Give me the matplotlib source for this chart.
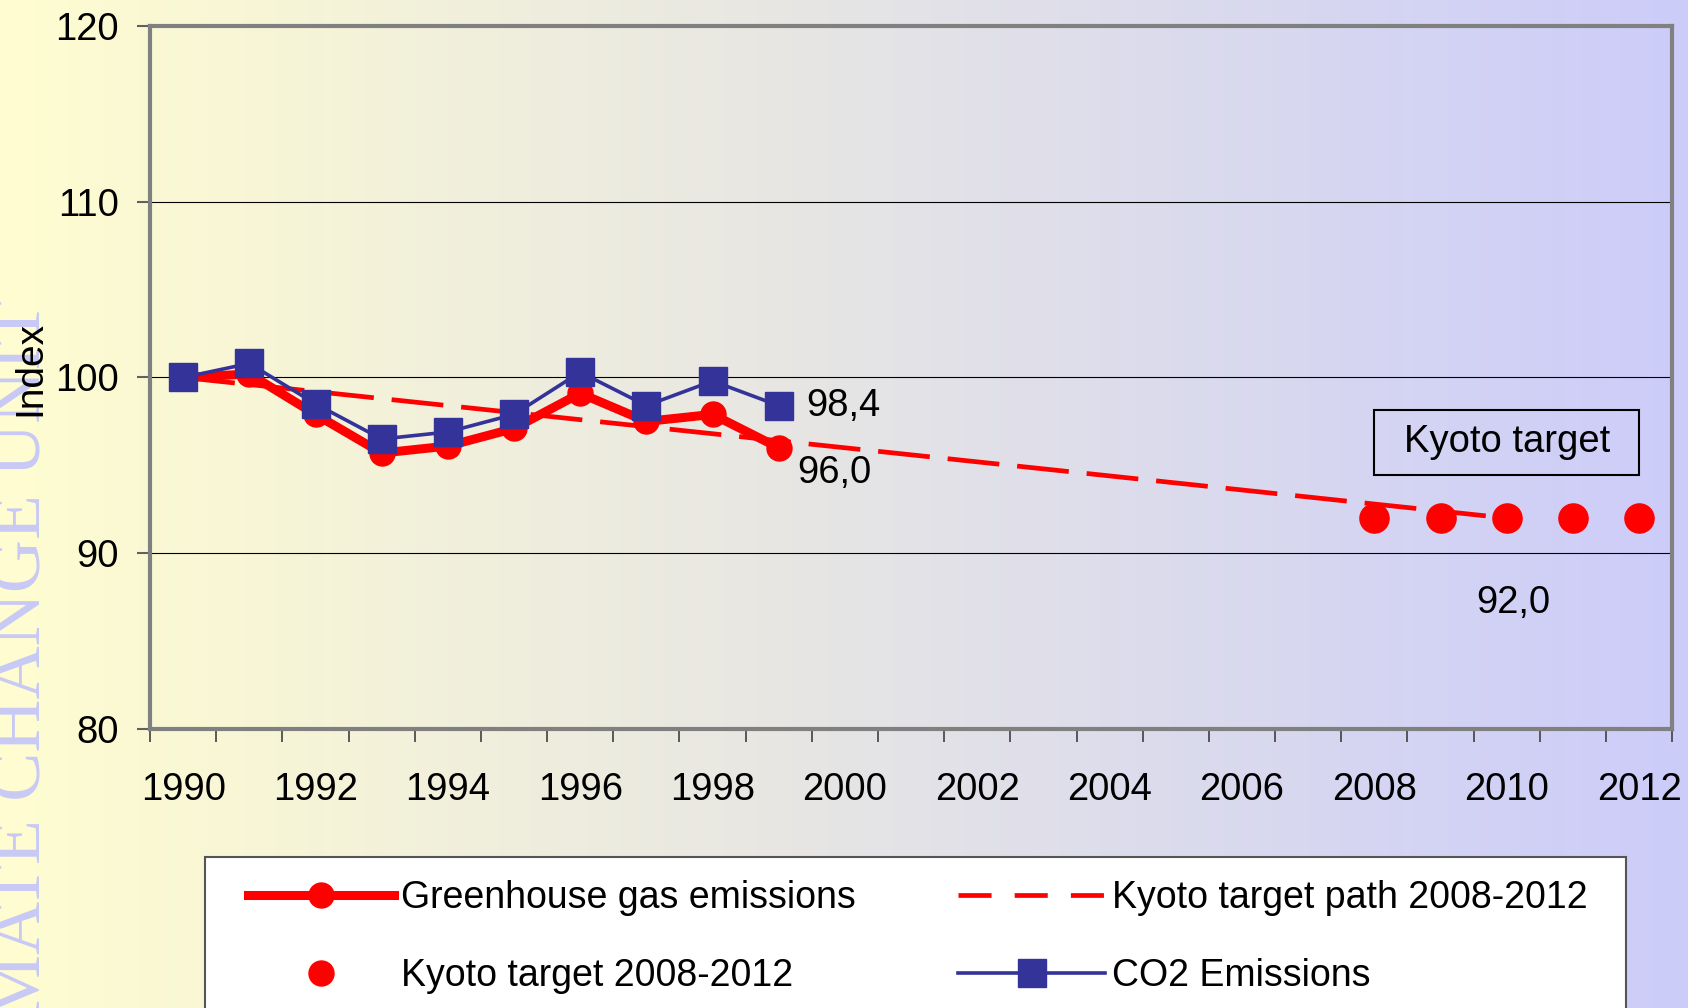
import numpy as np
import matplotlib.pyplot as plt
from matplotlib.patches import Rectangle
from matplotlib.lines import Line2D

plt.rcParams['font.family'] = ['Liberation Sans', 'DejaVu Sans']

# data
years = list(range(1990, 2013))
label_years = [1990, 1992, 1994, 1996, 1998, 2000, 2002, 2004, 2006, 2008, 2010, 2012]
y_ticks = [80, 90, 100, 110, 120]

emis_years = [1990, 1991, 1992, 1993, 1994, 1995, 1996, 1997, 1998, 1999]
ghg_values = [100.0, 100.2, 97.9, 95.7, 96.1, 97.1, 99.1, 97.5, 97.9, 96.0]
co2_values = [100.0, 100.8, 98.5, 96.5, 96.9, 97.9, 100.3, 98.4, 99.8, 98.4]

path_years = [1990, 2010]
path_values = [100.0, 92.0]

target_years = [2008, 2009, 2010, 2011, 2012]
target_values = [92.0, 92.0, 92.0, 92.0, 92.0]

FS = 27.5

def pos(yrs):
    return [y - years[0] for y in yrs]

fig = plt.figure(figsize=(16.88, 10.08), dpi=100)

# background gradient yellow -> lavender
bg = fig.add_axes([0, 0, 1, 1], zorder=-10)
c0 = np.array([255, 253, 208]) / 255
c1 = np.array([204, 204, 250]) / 255
t = np.linspace(0, 1, 512)[None, :, None]
grad = c0 * (1 - t) + c1 * t
bg.imshow(grad, aspect='auto', extent=[0, 1, 0, 1])
bg.set_xlim(0, 1)
bg.set_ylim(0, 1)
bg.axis('off')
bg.text(41 / 1688, 1 - 300 / 1008, 'CLIMATE CHANGE UNIT', rotation=90,
        rotation_mode='anchor', ha='right', va='baseline',
        fontsize=53, color='#C8CAF6', family='Liberation Serif',
        transform=bg.transAxes)

ax = fig.add_axes([0.0889, 0.2768, 0.9017, 0.6974])
ax.set_facecolor('none')

ax.plot(pos(path_years), path_values, color='red', lw=3.4,
        dashes=(11, 3.8), zorder=2)
ax.plot(pos(emis_years), ghg_values, color='red', lw=6.5, marker='o',
        markersize=18, zorder=3)
ax.plot(pos(target_years), target_values, ls='none', color='red', marker='o',
        markersize=21, zorder=3)
ax.plot(pos(emis_years), co2_values, color='#333399', lw=2.6, marker='s',
        markersize=20, zorder=4)

ax.set_xlim(-0.5, len(years) - 0.5)
ax.set_ylim(80, 120)
ax.set_yticks(y_ticks)
ax.tick_params(axis='y', labelsize=FS, length=9.5, width=1.5, color='#606060', pad=13)

# category axis: ticks between years, labels every other year
ax.set_xticks(np.arange(-0.5, len(years), 1.0))
ax.set_xticklabels([])
ax.set_xticks(pos(label_years), minor=True)
ax.set_xticklabels([str(y) for y in label_years], minor=True)
ax.tick_params(axis='x', which='major', length=9, width=1.2, color='#404040')
ax.tick_params(axis='x', which='minor', length=0, labelsize=FS, pad=31)

ax.grid(axis='y', color='black', lw=0.8)
for s in ax.spines.values():
    s.set_color('#808080')
    s.set_linewidth(3.0)

fig.text(30 / 1688, 1 - 368 / 1008, 'Index', rotation=90, ha='center',
         va='center', fontsize=28)

# value labels
ax.annotate('98,4', (emis_years[-1] - years[0], co2_values[-1]),
            xytext=(20, 0), textcoords='offset points', ha='left',
            va='center', fontsize=FS)
ax.annotate('96,0', (emis_years[-1] - years[0], ghg_values[-1]),
            xytext=(13, -18), textcoords='offset points', ha='left',
            va='center', fontsize=FS)
ax.annotate('92,0', (2010 - years[0], 92.0),
            xytext=(5, -61), textcoords='offset points', ha='center',
            va='center', fontsize=FS)

ax.add_patch(Rectangle((18.0, 94.45), 4.0, 3.7, facecolor='none',
                       edgecolor='black', lw=1.5, zorder=5))
ax.text(20.0, 96.35, 'Kyoto target', ha='center', va='center', fontsize=FS,
        zorder=5)

# legend box (runs off the bottom of the figure)
fig.patches.append(Rectangle((204.5 / 1688, -0.05), (1625.5 - 204.5) / 1688,
                             1 - 857 / 1008 + 0.05, transform=fig.transFigure,
                             facecolor='white', edgecolor='#555555', lw=1.5,
                             zorder=1))
handles = [
    Line2D([], [], color='red', lw=6.5, marker='o', markersize=18),
    Line2D([], [], ls='none', color='red', marker='o', markersize=18),
    Line2D([], [], color='red', lw=3.4, dashes=(7, 4.9)),
    Line2D([], [], color='#333399', lw=2.6, marker='s', markersize=20),
]
labels = ['Greenhouse gas emissions', 'Kyoto target 2008-2012',
          'Kyoto target path 2008-2012', 'CO2 Emissions']
fig.legend(handles, labels, ncol=2,
           loc='upper left', bbox_to_anchor=(247.6 / 1688, 1 - 880 / 1008),
           frameon=False, fontsize=27, borderpad=0, borderaxespad=0,
           handlelength=3.9, handletextpad=0.2, columnspacing=2.73,
           labelspacing=1.12)

fig.savefig('out.png', dpi=100)
